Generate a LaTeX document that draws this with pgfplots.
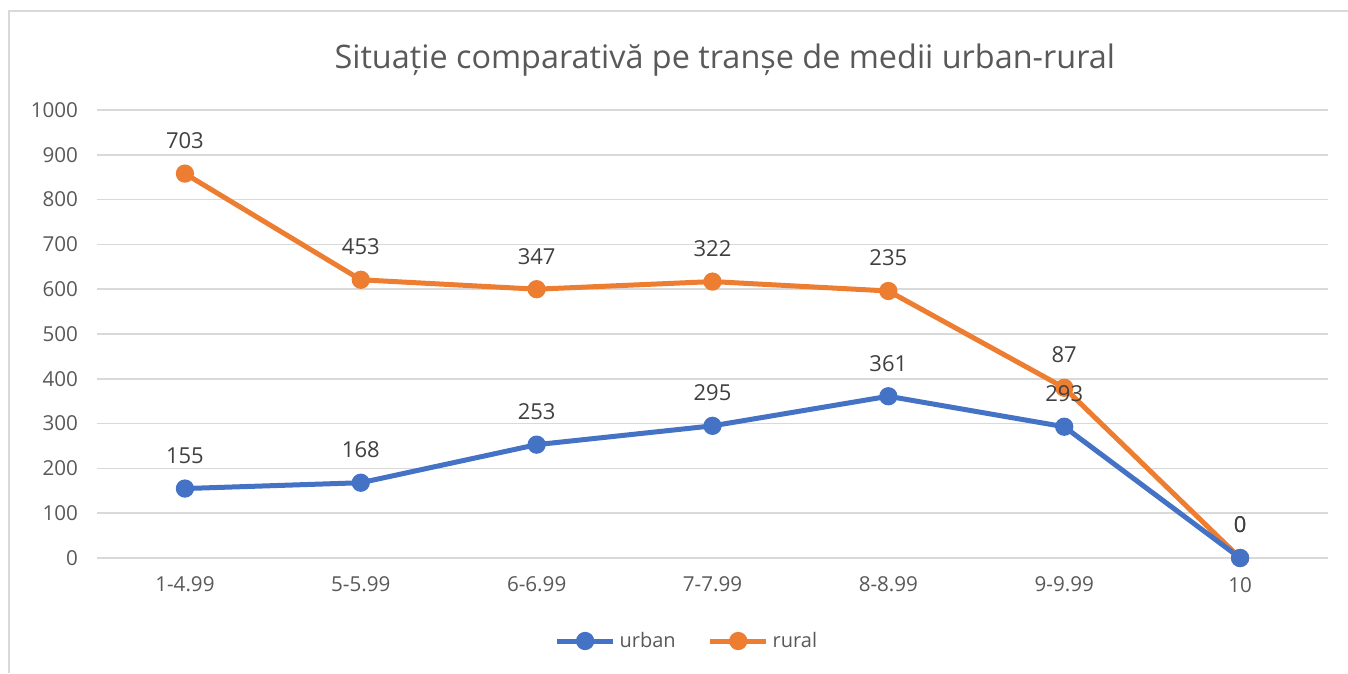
\documentclass[border=0pt]{standalone}
\usepackage{fontspec}
\setmainfont{Open Sans}
\usepackage{pgfplots}
\pgfplotsset{compat=1.18}
\usetikzlibrary{calc}

\definecolor{urbanc}{HTML}{4472C4}
\definecolor{ruralc}{HTML}{ED7D31}
\definecolor{gridc}{HTML}{D9D9D9}
\definecolor{tickc}{HTML}{595959}
\definecolor{labc}{HTML}{404040}

\begin{document}
\begin{tikzpicture}
\begin{axis}[
    name=ax,
    scale only axis,
    width=615.5pt, height=224pt,
    xmin=-0.5, xmax=6.5,
    ymin=0, ymax=1000,
    ytick={0,100,...,1000},
    xtick={0,...,6},
    xticklabels={1-4.99,5-5.99,6-6.99,7-7.99,8-8.99,9-9.99,10},
    stack plots=y,
    point meta=rawy,
    nodes near coords,
    every node near coord/.style={font=\fontsize{11}{13}\selectfont, text=labc, anchor=center, yshift=16.5pt},
    axis x line*=bottom,
    axis y line*=left,
    x axis line style={gridc, line width=0.8pt, -},
    y axis line style={draw=none},
    ymajorgrids,
    grid style={gridc, line width=0.8pt},
    major tick length=0pt,
    tick label style={font=\fontsize{10.3}{12}\selectfont, text=tickc},
    /pgf/number format/assume math mode=true,
    /pgf/number format/1000 sep={},
    xticklabel style={yshift=-6pt},
    yticklabel style={xshift=-6pt},
    legend style={at={(0.48,-41.5pt)}, anchor=center, draw=none, fill=none,
        legend columns=2, font=\fontsize{10}{12}\selectfont, text=tickc,
        /tikz/every even column/.append style={column sep=14pt},
        inner sep=0pt},
    legend image code/.code={\draw[mark repeat=2,mark phase=2,#1] plot coordinates {(0pt,0pt) (14pt,0pt) (28pt,0pt)};},
    clip=false,
]
\addplot[urbanc, line width=2.5pt, mark=*, mark size=3.3pt, mark options={solid, fill=urbanc, draw=urbanc}]
  coordinates {(0,155) (1,168) (2,253) (3,295) (4,361) (5,293) (6,0)};
\addlegendentry{urban}
\addplot[ruralc, line width=2.5pt, mark=*, mark size=3.3pt, mark options={solid, fill=ruralc, draw=ruralc}]
  coordinates {(0,703) (1,453) (2,347) (3,322) (4,235) (5,87) (6,0)};
\addlegendentry{rural}
\end{axis}
\node[font=\fontsize{16.2}{19}\selectfont, text=tickc] at ([yshift=25pt]$(ax.north west)!0.51!(ax.north east)$) {Situație comparativă pe tranșe de medii urban-rural};
\draw[gridc, line width=0.8pt] ([xshift=-44pt]ax.south west) ++(0,-57.5pt) -- ([xshift=-44pt,yshift=49.5pt]ax.north west) -- ([xshift=10pt,yshift=49.5pt]ax.north east);
\pgfresetboundingbox
\useasboundingbox ([xshift=-48.5pt,yshift=-57.5pt]ax.south west) rectangle ([xshift=10pt,yshift=55pt]ax.north east);
\end{tikzpicture}
\end{document}
